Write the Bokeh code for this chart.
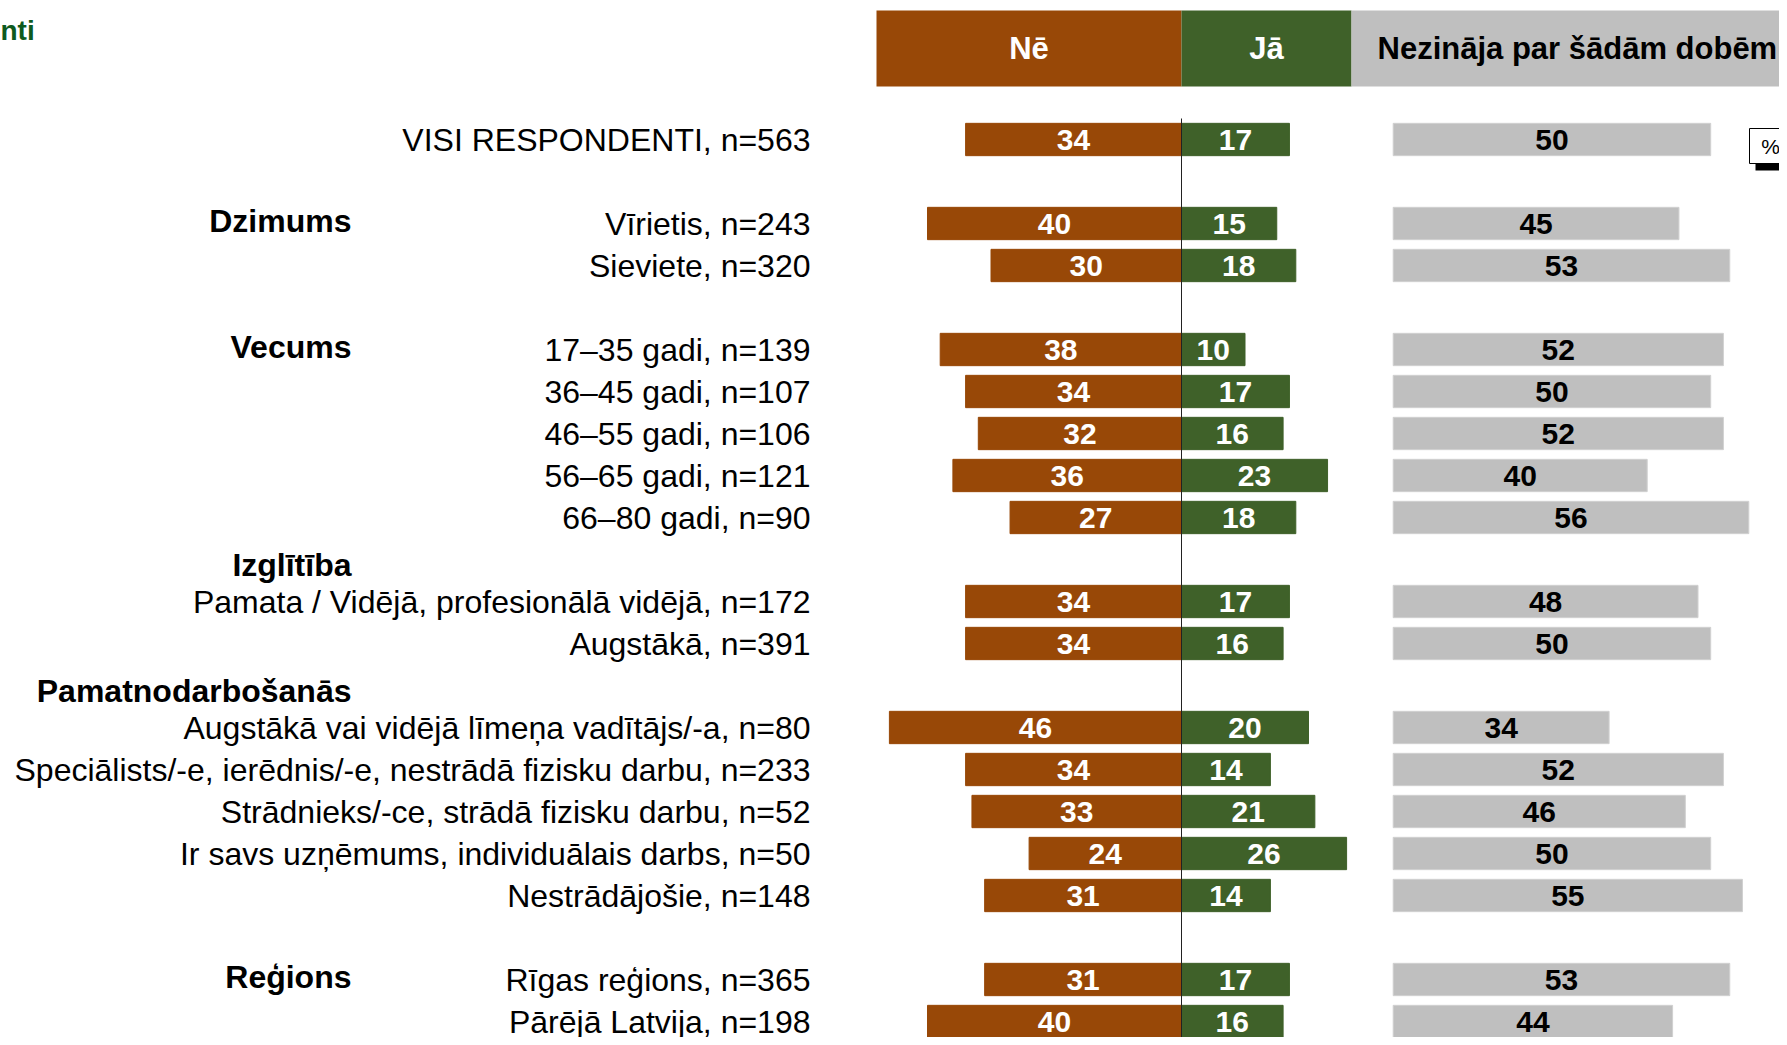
from bokeh.plotting import figure
from bokeh.models import Range1d, ColumnDataSource
from bokeh.embed import file_html
from bokeh.resources import INLINE
from bokeh.core.properties import value

# ---------------- data ----------------
series_names = ["Nē", "Jā", "Nezināja par šādām dobēm"]
categories = [
    "VISI RESPONDENTI, n=563",
    "Vīrietis, n=243",
    "Sieviete, n=320",
    "17–35 gadi, n=139",
    "36–45 gadi, n=107",
    "46–55 gadi, n=106",
    "56–65 gadi, n=121",
    "66–80 gadi, n=90",
    "Pamata / Vidējā, profesionālā vidējā, n=172",
    "Augstākā, n=391",
    "Augstākā vai vidējā līmeņa vadītājs/-a, n=80",
    "Speciālists/-e, ierēdnis/-e, nestrādā fizisku darbu, n=233",
    "Strādnieks/-ce, strādā fizisku darbu, n=52",
    "Ir savs uzņēmums, individuālais darbs, n=50",
    "Nestrādājošie, n=148",
    "Rīgas reģions, n=365",
    "Pārējā Latvija, n=198",
]
ne_values = [34, 40, 30, 38, 34, 32, 36, 27, 34, 34, 46, 34, 33, 24, 31, 31, 40]
ja_values = [17, 15, 18, 10, 17, 16, 23, 18, 17, 16, 20, 14, 21, 26, 14, 17, 16]
nezin_values = [50, 45, 53, 52, 50, 52, 40, 56, 48, 50, 34, 52, 46, 50, 55, 53, 44]
groups = ["Dzimums", "Vecums", "Izglītība", "Pamatnodarbošanās", "Reģions"]
group_first_category = ["Vīrietis, n=243", "17–35 gadi, n=139",
                        "Pamata / Vidējā, profesionālā vidējā, n=172",
                        "Augstākā vai vidējā līmeņa vadītājs/-a, n=80",
                        "Rīgas reģions, n=365"]
title_fragment = "nti"
unit_label = "%"

# ---------------- layout ----------------
BROWN = "#984807"
GREEN = "#3F6129"
GREY = "#BFBFBF"
FONT = "Liberation Sans"

W, H = 1779, 1037
PX_PER_UNIT = 6.35          # horizontal pixels per percentage point
ROW_PX = 42.0               # vertical pixels per row slot
CENTER_PX = 1181.0           # x of zero line in the picture
ROW0_PX = 139.0              # y of first row centre in the picture

x_start = (0 - CENTER_PX) / PX_PER_UNIT
x_end = x_start + W / PX_PER_UNIT
y_top = (0 - ROW0_PX) / ROW_PX
y_bottom = y_top + H / ROW_PX

def px_to_unit(px):
    return (px - CENTER_PX) / PX_PER_UNIT

def py_to_slot(py):
    return (py - ROW0_PX) / ROW_PX

gaps_before = [0, 1, 0, 1, 0, 0, 0, 0, 1, 0, 1, 0, 0, 0, 0, 1, 0]
group_own_line = [False, False, True, True, False]
slots = []
s = -1
for g in gaps_before:
    s += 1 + g
    slots.append(s)
slot_of = dict(zip(categories, slots))
group_slots = [slot_of[c] + (-0.88 if own else -0.05)
               for c, own in zip(group_first_category, group_own_line)]

GREY_START = px_to_unit(1392.7)
BAR_H = 0.77

p = figure(width=W, height=H, output_backend="svg", toolbar_location=None,
           x_range=Range1d(x_start, x_end), y_range=Range1d(y_bottom, y_top),
           x_axis_type=None, y_axis_type=None, min_border=0, title=None)
p.outline_line_color = None
p.grid.visible = False
p.background_fill_color = "white"
p.border_fill_color = "white"

# header boxes
hdr_top, hdr_bot = py_to_slot(10), py_to_slot(86)
ne_left = px_to_unit(876)
ja_right = px_to_unit(1351)
p.quad(left=[ne_left, 0, ja_right], right=[0, ja_right, x_end + 5],
       top=hdr_top, bottom=hdr_bot, fill_color=[BROWN, GREEN, GREY], line_color=None)
hdr_y = (hdr_top + hdr_bot) / 2
p.text(x=[ne_left / 2, ja_right / 2], y=[hdr_y, hdr_y], text=series_names[:2],
       text_font=value(FONT), text_font_style="bold", text_font_size="31px",
       text_color="white", text_align="center", text_baseline="middle")
p.text(x=[px_to_unit(1377)], y=[hdr_y], text=[series_names[2]],
       text_font=value(FONT), text_font_style="bold", text_font_size="31px",
       text_color="black", text_align="left", text_baseline="middle")

src = ColumnDataSource(dict(
    y=slots,
    cat=categories,
    ne_left=[-v for v in ne_values],
    ja=ja_values,
    nz_left=[GREY_START] * len(slots),
    nz_right=[GREY_START + v for v in nezin_values],
    ne_lx=[-v / 2 for v in ne_values],
    ja_lx=[v / 2 for v in ja_values],
    nz_lx=[GREY_START + v / 2 for v in nezin_values],
    ne_t=[str(v) for v in ne_values],
    ja_t=[str(v) for v in ja_values],
    nz_t=[str(v) for v in nezin_values],
))

p.hbar(y="y", left="ne_left", right=0, height=BAR_H, source=src, fill_color=BROWN, line_color=BROWN)
p.hbar(y="y", left=0, right="ja", height=BAR_H, source=src, fill_color=GREEN, line_color=GREEN)
p.hbar(y="y", left="nz_left", right="nz_right", height=BAR_H, source=src, fill_color=GREY, line_color="#D0D0D0")

# zero line over bars
p.segment(x0=[0], x1=[0], y0=[py_to_slot(118)], y1=[y_bottom + 1], line_color="#222222", line_width=1)

lbl = dict(text_font=value(FONT), text_font_style="bold", text_font_size="30px",
           text_align="center", text_baseline="middle")
p.text(x="ne_lx", y="y", text="ne_t", source=src, text_color="white", **lbl)
p.text(x="ja_lx", y="y", text="ja_t", source=src, text_color="white", **lbl)
p.text(x="nz_lx", y="y", text="nz_t", source=src, text_color="black", **lbl)

# category labels
p.text(x=px_to_unit(810), y="y", text="cat", source=src, text_font=value(FONT),
       text_font_size="32px", text_color="black", text_align="right", text_baseline="middle")

# group labels
p.text(x=[px_to_unit(351)] * len(groups), y=group_slots, text=groups,
       text_font=value(FONT), text_font_style="bold", text_font_size="32px",
       text_color="black", text_align="right", text_baseline="middle")

# title fragment at the top-left edge
p.text(x=[px_to_unit(0)], y=[py_to_slot(30)], text=[title_fragment], text_font=value(FONT),
       text_font_style="bold", text_font_size="28px", text_color="#0E5A1E",
       text_align="left", text_baseline="middle")

# percent marker
bx0 = px_to_unit(1749)
p.quad(left=[px_to_unit(1755)], right=[x_end + 5], top=[py_to_slot(140)], bottom=[py_to_slot(170)],
       fill_color="black", line_color=None)
p.quad(left=[bx0], right=[x_end + 5], top=[py_to_slot(128)], bottom=[py_to_slot(163)],
       fill_color="white", line_color="black", line_width=1)
p.text(x=[px_to_unit(1770)], y=[py_to_slot(146)], text=[unit_label], text_font=value(FONT),
       text_font_size="21px", text_color="black", text_align="center", text_baseline="middle")

open("out.html", "w").write(file_html(p, INLINE))
